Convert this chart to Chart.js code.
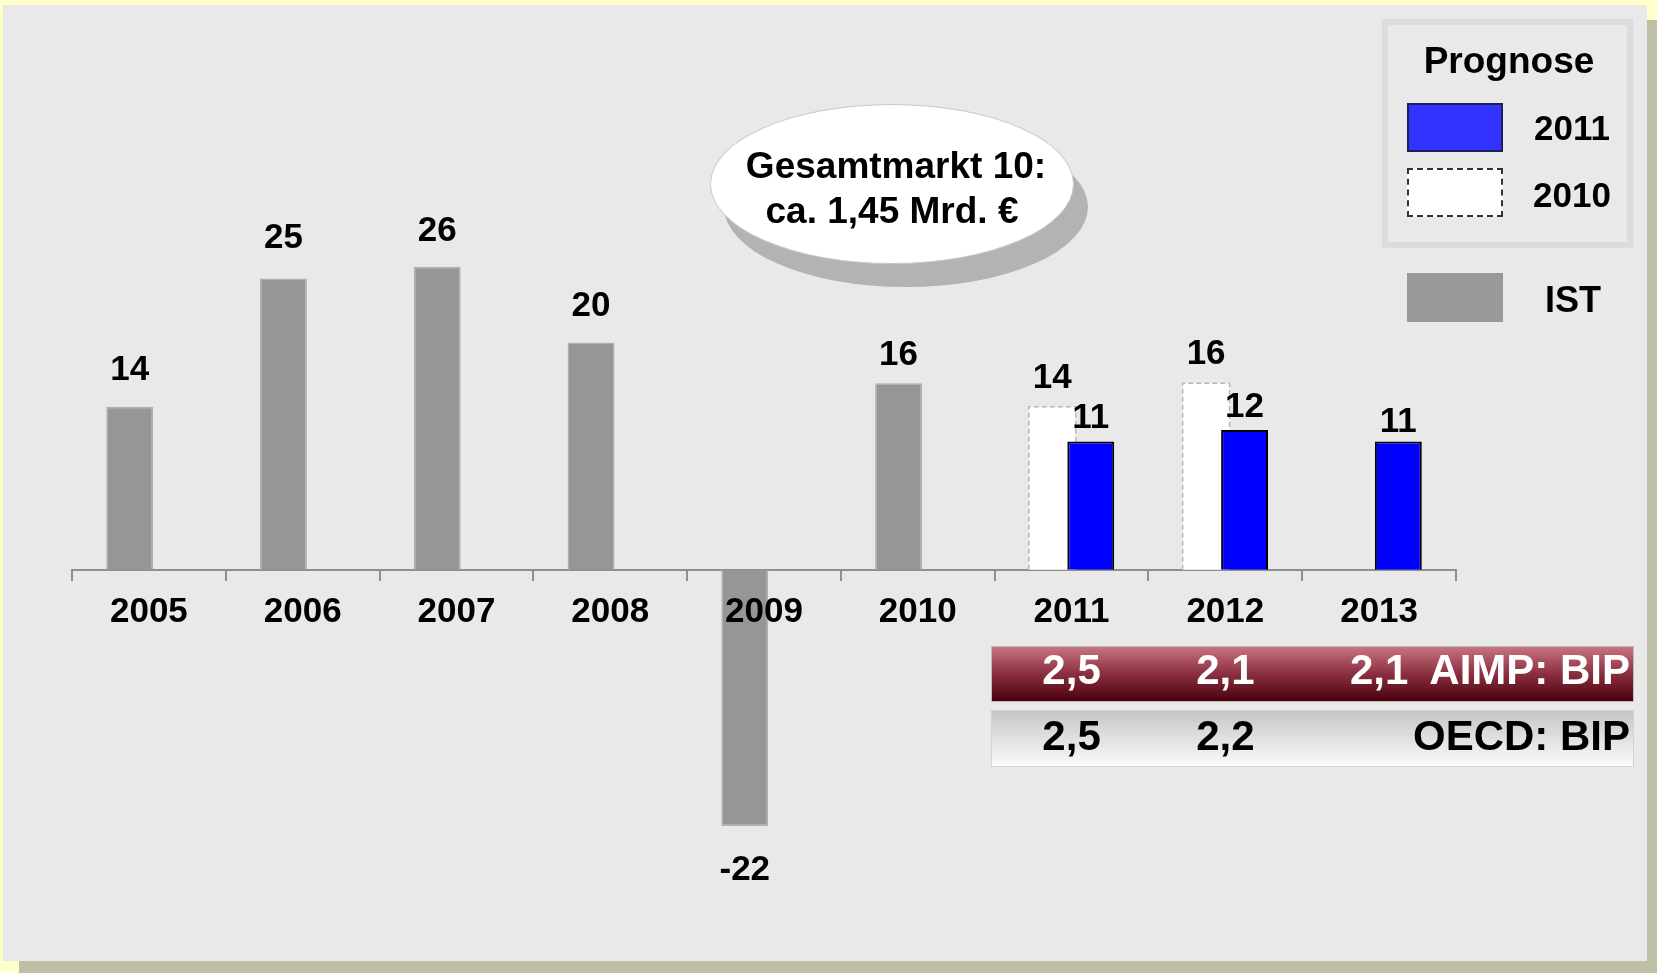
<!DOCTYPE html>
<html lang="de">
<head>
<meta charset="utf-8">
<title>Gesamtmarkt 10</title>
<script src="https://cdn.jsdelivr.net/npm/chart.js@4.4.0/dist/chart.umd.min.js"></script>
<style>
  html, body { margin: 0; padding: 0; }
  body {
    width: 1657px; height: 973px; overflow: hidden; position: relative;
    background: #FFFFCC;
    font-family: 'Liberation Sans', Arial, sans-serif; font-weight: bold; color: #000;
  }
  .abs { position: absolute; }
  .txt { position: absolute; line-height: 1; white-space: nowrap; }
  .mitte { transform: translateX(-50%); }

  /* Hintergrundfläche mit Schatten */
  #schatten { left: 19px; top: 20px; width: 1638px; height: 953px; background: #BFBFA6; }
  #flaeche  { left: 3px; top: 5px; width: 1644px; height: 956px; background: #E9E9E9; }
  #grafik   { left: 0; top: 0; }

  /* Sprechblase */
  #blase-schatten { left: 724px; top: 127px; width: 364px; height: 160px; border-radius: 50%; background: #B3B3B3; }
  #blase { left: 710px; top: 104px; width: 362px; height: 158px; border-radius: 50%; background: #fff; border: 1px solid #C8C8C8; }

  /* Legende */
  #legende { left: 1382px; top: 19px; width: 251px; height: 229px; box-sizing: border-box; border: 6px solid #DCDCDC; }
  .feld { width: 96px; height: 49px; box-sizing: border-box; left: 1407px; }
  #feld-2011 { top: 103px; background: #3333FF; border: 2px solid #1F1F5C; }
  #feld-2010 { top: 168px; background: #FFFFFF; border: 2px dashed #333; }
  #feld-ist  { top: 273px; background: #999999; }

  /* BIP-Tabelle */
  .zeile { left: 991px; width: 643px; box-sizing: border-box; }
  #zeile-aimp { top: 646px; height: 56px; border: 1px solid #BDBDBD;
    background: linear-gradient(#C97381, #8A2F40 50%, #4B000E); }
  #zeile-oecd { top: 710px; height: 57px; border: 1px solid #D3D3D3;
    background: linear-gradient(#C6C6C6, #FBFBFB); }
</style>
</head>
<body>
<div id="schatten" class="abs"></div>
<div id="flaeche" class="abs"></div>
<canvas id="grafik" class="abs" width="1657" height="973"></canvas>

<div id="blase-schatten" class="abs"></div>
<div id="blase" class="abs"></div>
<div class="txt mitte" style="left:896px; top:147px; font-size:37px;">Gesamtmarkt 10:</div>
<div class="txt mitte" style="left:892px; top:192px; font-size:37px;">ca. 1,45 Mrd. €</div>

<div id="legende" class="abs"></div>
<div class="txt mitte" style="left:1509px; top:42px; font-size:37px;">Prognose</div>
<div id="feld-2011" class="abs feld"></div>
<div id="feld-2010" class="abs feld"></div>
<div id="feld-ist" class="abs feld"></div>
<div id="leg-2011" class="txt mitte" style="left:1572px; top:110px; font-size:35px;"></div>
<div id="leg-2010" class="txt mitte" style="left:1572px; top:177px; font-size:35px;"></div>
<div id="leg-ist" class="txt mitte" style="left:1573px; top:282px; font-size:36px;"></div>

<div id="zeile-aimp" class="abs zeile"></div>
<div id="zeile-oecd" class="abs zeile"></div>
<div id="bip-text"></div>

<script>
// Daten
const jahre = ['2005', '2006', '2007', '2008', '2009', '2010', '2011', '2012', '2013'];
const ist = [14, 25, 26, 19.5, -22, 16, null, null, null];
const prognose2011 = [null, null, null, null, null, null, 11, 12, 11];
const prognose2010 = [null, null, null, null, null, null, 14, 16, null];

// BIP-Zeilen unter der Grafik
const bipJahre = ['2011', '2012', '2013'];
const bipAimp = ['2,5', '2,1', '2,1'];
const bipOecd = ['2,5', '2,2', ''];
const bipAimpTitel = 'AIMP: BIP';
const bipOecdTitel = 'OECD: BIP';

const SCHRIFT = "'Liberation Sans', Arial, sans-serif";

// Werte über/unter den Balken (gerundet wie im Original)
const wertBeschriftung = {
  id: 'wertBeschriftung',
  afterDatasetsDraw(chart) {
    const { ctx } = chart;
    ctx.save();
    ctx.font = `bold 35px ${SCHRIFT}`;
    ctx.fillStyle = '#000';
    ctx.textAlign = 'center';
    ctx.textBaseline = 'alphabetic';
    chart.data.datasets.forEach((ds, i) => {
      const meta = chart.getDatasetMeta(i);
      meta.data.forEach((el, j) => {
        const v = ds.data[j];
        if (v === null || v === undefined) return;
        const y = v >= 0 ? el.y - ds.abstand[j] : el.y + 54;
        ctx.fillText(String(Math.round(v)), el.x, y);
      });
    });
    ctx.restore();
  },
};

// gestrichelter Rand der Prognose-2010-Balken
const umrissGestrichelt = {
  id: 'umrissGestrichelt',
  afterDatasetDraw(chart, args) {
    const ds = chart.data.datasets[args.index];
    if (!ds.strichFarbe) return;
    const { ctx } = chart;
    ctx.save();
    ctx.strokeStyle = ds.strichFarbe;
    ctx.lineWidth = 1.5;
    ctx.setLineDash([5, 3]);
    args.meta.data.forEach((el, j) => {
      if (ds.data[j] === null) return;
      const { x, y, base, width } = el.getProps(['x', 'y', 'base', 'width'], true);
      const l = x - width / 2, r = x + width / 2;
      ctx.beginPath();
      ctx.moveTo(l, base);
      ctx.lineTo(l, y);
      ctx.lineTo(r, y);
      ctx.lineTo(r, base);
      ctx.stroke();
    });
    ctx.restore();
  },
};

const chart = new Chart(document.getElementById('grafik'), {
  type: 'bar',
  data: {
    labels: jahre,
    datasets: [
      {
        label: 'IST',
        data: ist,
        stack: 'a',
        backgroundColor: '#969696',
        borderColor: '#B0B0B0',
        borderWidth: 1.5,
        abstand: [27, 31, 26, 27, 0, 18, 0, 0, 0],
      },
      {
        label: '2011',
        data: prognose2011,
        stack: 'b',
        backgroundColor: '#0000FF',
        borderColor: '#000000',
        borderWidth: 2,
        abstand: [0, 0, 0, 0, 0, 0, 14, 13, 10],
      },
      {
        label: '2010',
        data: prognose2010,
        stack: 'a',
        backgroundColor: '#FFFFFF',
        borderWidth: 0,
        strichFarbe: '#B8B8B8',
        abstand: [0, 0, 0, 0, 0, 0, 19, 19, 0],
      },
    ],
  },
  options: {
    responsive: false,
    animation: false,
    events: [],
    categoryPercentage: 0.5,
    barPercentage: 1.22,
    layout: { padding: { left: 72, right: 201, top: 162, bottom: 112 } },
    plugins: { legend: { display: false }, tooltip: { enabled: false } },
    scales: {
      x: {
        position: { y: 0 },
        border: { display: true, color: '#8F8F8F', width: 2 },
        grid: { display: true, drawOnChartArea: false, drawTicks: true, tickLength: 10, color: '#8F8F8F', lineWidth: 2, offset: true },
        ticks: { z: 1, color: '#000', padding: 12, font: { family: SCHRIFT, size: 35, weight: 'bold' } },
      },
      y: { display: false, stacked: false, min: -25, max: 35 },
    },
  },
  plugins: [umrissGestrichelt, wertBeschriftung],
});

// Legende aus den Datensätzen
document.getElementById('leg-2011').textContent = chart.data.datasets[1].label;
document.getElementById('leg-2010').textContent = chart.data.datasets[2].label;
document.getElementById('leg-ist').textContent = chart.data.datasets[0].label;

// BIP-Werte unter den Kategorien
const bipBox = document.getElementById('bip-text');
function bipText(text, x, top, farbe, rechts) {
  const d = document.createElement('div');
  d.className = 'txt' + (rechts ? '' : ' mitte');
  d.style.fontSize = '42px';
  d.style.top = top + 'px';
  d.style.color = farbe;
  if (rechts) d.style.right = (1657 - x) + 'px';
  else d.style.left = x + 'px';
  d.textContent = text;
  bipBox.appendChild(d);
}
bipJahre.forEach((jahr, i) => {
  const x = chart.scales.x.getPixelForValue(jahre.indexOf(jahr));
  if (bipAimp[i]) bipText(bipAimp[i], x, 649, '#fff', false);
  if (bipOecd[i]) bipText(bipOecd[i], x, 715, '#000', false);
});
bipText(bipAimpTitel, 1630, 649, '#fff', true);
bipText(bipOecdTitel, 1630, 715, '#000', true);
</script>
</body>
</html>
